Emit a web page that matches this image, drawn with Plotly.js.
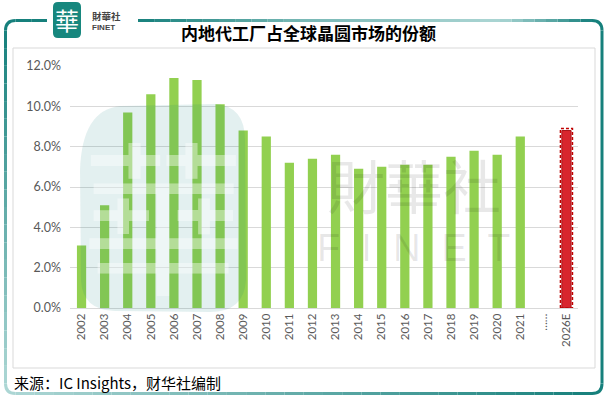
<!DOCTYPE html>
<html>
<head>
<meta charset="utf-8">
<script src="https://cdn.plot.ly/plotly-3.0.1.min.js"></script>
<style>html,body{margin:0;padding:0;background:#fff;}#chart{width:610px;height:398px;}</style>
</head>
<body>
<div id="chart"></div>
<script>
// ---- data ----
const years = ['2002','2003','2004','2005','2006','2007','2008','2009','2010','2011','2012','2013','2014','2015','2016','2017','2018','2019','2020','2021','……','2026E'];
const share = [3.1,5.1,9.7,10.6,11.4,11.3,10.1,8.8,8.5,7.2,7.4,7.6,6.9,7.0,7.1,7.1,7.5,7.8,7.6,8.5,null,8.8];
const yTicks = [0,2,4,6,8,10,12];
const titleText = '内地代工厂占全球晶圆市场的份额';
const sourceText = '来源：IC Insights，财华社编制';

// ---- geometry helpers (pixel -> paper) ----
const W = 610, H = 398, M = {l:70, r:32, t:66, b:90};
const PW = W - M.l - M.r, PH = H - M.t - M.b;
const fx = x => (x - M.l) / PW;
const fy = y => (H - M.b - y) / PH;

const shapes = [];
const annotations = [];

function rgb(c){return 'rgb('+c.map(v=>Math.round(v)).join(',')+')';}
function mix(a,b,t){return [a[0]+(b[0]-a[0])*t,a[1]+(b[1]-a[1])*t,a[2]+(b[2]-a[2])*t];}
const dark=[22,128,124], light=[172,214,212];
function gradLine(x0,y0,x1,y1,c0,c1,n){
  for(let i=0;i<n;i++){
    const t0=i/n,t1=(i+1)/n;
    shapes.push({type:'line',xref:'paper',yref:'paper',
      x0:fx(x0+(x1-x0)*t0),y0:fy(y0+(y1-y0)*t0),x1:fx(x0+(x1-x0)*t1),y1:fy(y0+(y1-y0)*t1),
      line:{color:rgb(mix(c0,c1,(t0+t1)/2)),width:3}});
  }
}
function pathPx(cmds){
  return cmds.map(c=>{const k=c[0];const pts=[];for(let i=1;i<c.length;i+=2){pts.push(fx(c[i])+','+fy(c[i+1]));}return k+pts.join(' ');}).join(' ');
}
function cornerShape(cmds,col){
  shapes.push({type:'path',xref:'paper',yref:'paper',path:pathPx(cmds),line:{color:rgb(col),width:3}});
}
// outer teal frame
const L=5.5, T=20.5, R=602, B=393.5, rad=10;
gradLine(47,T,L+rad,T,dark,dark,2);
cornerShape([['M',L+rad,T],['Q',L,T,L,T+rad]],dark);
gradLine(L,T+rad,L,B-rad,dark,light,20);
cornerShape([['M',L,B-rad],['Q',L,B,L+rad,B]],light);
gradLine(L+rad,B,R-rad,B,light,dark,30);
cornerShape([['M',R-rad,B],['Q',R,B,R,B-rad]],dark);
gradLine(R,B-rad,R,T+rad,dark,dark,2);
cornerShape([['M',R,T+rad],['Q',R,T,R-rad,T]],dark);
gradLine(R-rad,T,500,T,dark,light,8);
gradLine(500,T,300,T,light,mix(light,dark,0.35),10);
gradLine(300,T,138,T,mix(light,dark,0.35),dark,10);

// inner grey frame
shapes.push({type:'rect',xref:'paper',yref:'paper',x0:fx(13),x1:fx(595),y0:fy(48),y1:fy(368),line:{color:'#D9D9D9',width:1}});

// logo
shapes.push({type:'path',xref:'paper',yref:'paper',fillcolor:'#17877E',line:{width:0},
  path:pathPx([['M',58,2],['L',76,2],['Q',81,2,81,7],['L',81,33],['Q',81,38,76,38],['L',58,38],['Q',53,38,53,33],['L',53,7],['Q',53,2,58,2]])+' Z'});
annotations.push({xref:'paper',yref:'paper',x:fx(67),y:fy(20),text:'華',showarrow:false,xanchor:'center',yanchor:'middle',
  font:{family:'Noto Sans CJK TC',size:24,color:'#ffffff'}});
annotations.push({xref:'paper',yref:'paper',x:fx(90),y:fy(15.5),text:'<b>財華社</b>',showarrow:false,xanchor:'left',yanchor:'middle',
  font:{family:'Noto Sans CJK TC',size:9.5,color:'#444444'}});
annotations.push({xref:'paper',yref:'paper',x:fx(90),y:fy(27.5),text:'<b>FINET</b>',showarrow:false,xanchor:'left',yanchor:'middle',
  font:{family:'Liberation Sans',size:8,color:'#444444'}});

// watermark blob (teal, translucent, above bars)
shapes.push({type:'path',xref:'paper',yref:'paper',layer:'above',fillcolor:'rgba(0,120,120,0.11)',line:{width:0},
  path:pathPx([['M',120,106],['L',215,104],['Q',245,106,245,140],['L',246,280],['Q',244,312,210,312],['L',115,311],['Q',82,310,81,280],['L',80,170],['Q',82,110,120,106]])+' Z'});
annotations.push({xref:'paper',yref:'paper',x:fx(163),y:fy(210),text:'華',showarrow:false,xanchor:'center',yanchor:'middle',
  font:{family:'Noto Sans CJK TC',size:165,color:'rgba(255,255,255,0.4)'}});
// grey watermark text
annotations.push({xref:'paper',yref:'paper',x:fx(414),y:fy(184),text:'財華社',showarrow:false,xanchor:'center',yanchor:'middle',
  font:{family:'Noto Sans CJK TC',size:58,color:'rgba(0,0,0,0.09)'}});
annotations.push({xref:'paper',yref:'paper',x:fx(414),y:fy(248),text:'F  I  N  E  T',showarrow:false,xanchor:'center',yanchor:'middle',
  font:{family:'Liberation Sans',size:38,color:'rgba(0,0,0,0.09)'}});

// title + footer
annotations.push({xref:'paper',yref:'paper',x:fx(308),y:fy(32),text:'<b>'+titleText+'</b>',showarrow:false,xanchor:'center',yanchor:'middle',
  font:{family:'Noto Sans CJK SC',size:17,color:'#000000'}});
annotations.push({xref:'paper',yref:'paper',x:fx(12),y:fy(382),text:sourceText,showarrow:false,xanchor:'left',yanchor:'middle',
  font:{family:'Noto Sans CJK SC',size:15,color:'#000000'}});

// dashed outline around forecast bar(s)
years.forEach((c,i)=>{
  if(/E$/.test(c) && share[i]!=null){
    shapes.push({type:'rect',xref:'x',yref:'y',x0:i-0.26,x1:i+0.26,y0:0,y1:share[i]+0.1,
      line:{color:'#C00000',width:1.5,dash:'3px,2px'},layer:'above'});
  }
});

const colors = years.map(c=>/E$/.test(c)?'#D8262E':'#92D050');
const lineColors = years.map(c=>/E$/.test(c)?'#A8161C':'rgba(0,0,0,0)');

const trace = {type:'bar',x:years,y:share,marker:{color:colors,line:{color:lineColors,width:1}},hoverinfo:'skip'};

const layout = {
  width:W,height:H,margin:M,paper_bgcolor:'#ffffff',plot_bgcolor:'rgba(0,0,0,0)',
  showlegend:false,bargap:0.6,
  font:{family:'Lato',color:'#595959'},
  xaxis:{type:'category',tickangle:-90,tickfont:{family:'Lato',size:11.5,color:'#595959'},
    showline:true,linecolor:'#D9D9D9',linewidth:1,ticks:'',showgrid:false,fixedrange:true},
  yaxis:{range:[0,12],tickvals:yTicks,ticktext:yTicks.map(v=>v.toFixed(1)+'%'),
    tickfont:{family:'Lato',size:12.5,color:'#595959'},gridcolor:'#D9D9D9',gridwidth:1,
    zeroline:false,showline:false,ticks:'',ticklabelstandoff:8,fixedrange:true},
  shapes:shapes,annotations:annotations
};
Plotly.newPlot('chart',[trace],layout,{staticPlot:true,displayModeBar:false});
</script>
</body>
</html>
